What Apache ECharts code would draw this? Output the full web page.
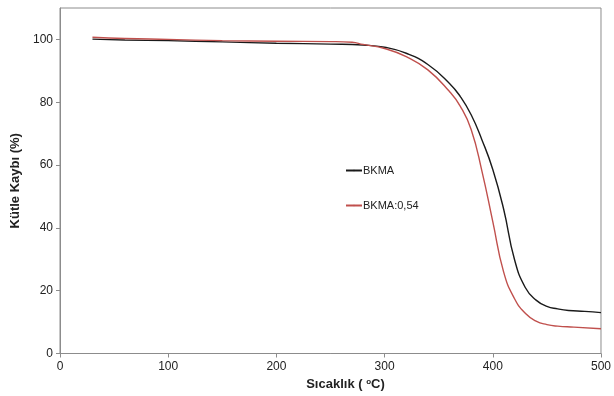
<!DOCTYPE html>
<html>
<head>
<meta charset="utf-8">
<script src="https://cdn.jsdelivr.net/npm/echarts@6/dist/echarts.min.js"></script>
<style>
  html, body { margin: 0; padding: 0; background: #fff; }
  #chart { width: 614px; height: 396px; }
</style>
</head>
<body>
<div id="chart"></div>
<script>
// sıcaklık (°C) ve kütle (%) okumaları
var tempBKMA = [30, 60, 100, 150, 200, 250, 280, 300, 320, 340, 360, 370, 380, 390, 400, 410, 420, 430, 440, 450, 460, 470, 485, 500];
var massBKMA = [100.1, 99.8, 99.6, 99.2, 98.8, 98.5, 98.2, 97.5, 95.6, 92, 86, 81.8, 76, 68, 58.6, 46, 30, 21, 17, 15, 14.2, 13.7, 13.4, 13];
var tempBKMA054 = [30, 60, 100, 150, 200, 250, 270, 280, 300, 320, 340, 360, 370, 380, 390, 400, 410, 420, 430, 440, 450, 460, 475, 500];
var massBKMA054 = [100.7, 100.3, 100, 99.6, 99.4, 99.3, 99.1, 98.4, 97.1, 94.5, 90.3, 83.4, 78.7, 71.3, 58, 42, 26, 17.5, 12.8, 10.3, 9.2, 8.7, 8.4, 7.9];
var seriesNames = ['BKMA', 'BKMA:0,54'];

function pairs(xs, ys) {
  return xs.map(function (x, i) { return [x, ys[i]]; });
}

var myChart = echarts.init(document.getElementById('chart'));
var axisGray = '#8c8c8c';
var option = {
  animation: false,
  backgroundColor: '#fff',
  textStyle: { fontFamily: 'Liberation Sans, Arial, sans-serif' },
  grid: {
    left: 60, right: 13, top: 8, bottom: 42,
    show: true, borderColor: axisGray, borderWidth: 1
  },
  legend: {
    data: seriesNames,
    orient: 'vertical',
    left: 340, top: 160,
    itemWidth: 16, itemHeight: 2, itemGap: 24,
    textStyle: { fontSize: 11, color: '#222', padding: [0, 0, 0, -4] }
  },
  xAxis: {
    type: 'value', min: 0, max: 500, interval: 100,
    name: 'Sıcaklık ( {sup|o}C)',
    nameLocation: 'middle', nameGap: 24,
    nameTextStyle: {
      fontSize: 13, fontWeight: 'bold', color: '#222', padding: [0, 0, 0, 30],
      rich: { sup: { fontSize: 8, fontWeight: 'bold', verticalAlign: 'top', padding: [0, 0, 6, 0] } }
    },
    axisLine: { lineStyle: { color: axisGray } },
    axisTick: { show: true, inside: false, length: 4, lineStyle: { color: axisGray } },
    axisLabel: { fontSize: 12, color: '#222', margin: 7 },
    splitLine: { show: false }
  },
  yAxis: {
    type: 'value', min: 0, max: 110, interval: 20,
    name: 'Kütle Kaybı (%)',
    nameLocation: 'middle', nameGap: 31,
    nameTextStyle: { fontSize: 13, fontWeight: 'bold', color: '#222' },
    axisLine: { show: true, lineStyle: { color: axisGray } },
    axisTick: { show: true, length: 4, lineStyle: { color: axisGray } },
    axisLabel: { fontSize: 12, color: '#222', margin: 7, showMaxLabel: false },
    splitLine: { show: false }
  },
  series: [
    {
      name: seriesNames[0], type: 'line', symbol: 'none',
      smooth: 0.5,
      lineStyle: { color: '#1a1a1a', width: 1.4 },
      itemStyle: { color: '#1a1a1a' },
      data: pairs(tempBKMA, massBKMA)
    },
    {
      name: seriesNames[1], type: 'line', symbol: 'none',
      smooth: 0.5,
      lineStyle: { color: '#c0504d', width: 1.4 },
      itemStyle: { color: '#c0504d' },
      data: pairs(tempBKMA054, massBKMA054)
    }
  ]
};
myChart.setOption(option);
</script>
</body>
</html>
